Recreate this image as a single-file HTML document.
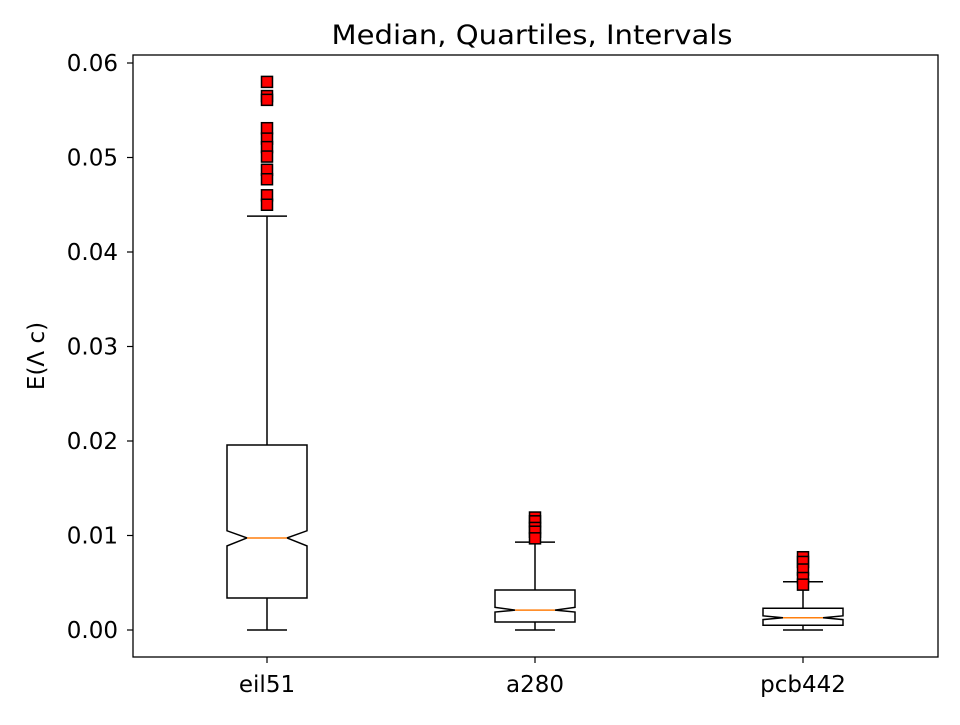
<!DOCTYPE html>
<html><head><meta charset="utf-8"><style>body{margin:0;background:#fff}svg{font-family:"DejaVu Sans","Liberation Sans",sans-serif}</style></head>
<body>
<svg id="c" width="960" height="720" xmlns="http://www.w3.org/2000/svg"></svg>
<script>
const categories=["eil51","a280","pcb442"];
const q1=[0.00339,0.00085,0.0005];
const q3=[0.01958,0.00423,0.0023];
const medians=[0.00974,0.0021,0.0013];
const notchLo=[0.0089,0.0019,0.0011];
const notchHi=[0.0105,0.0024,0.0015];
const whiskLo=[0,0,0];
const whiskHi=[0.0438,0.0093,0.0051];
const outliers=[[0.0580,0.0565,0.0561,0.0531,0.0520,0.0511,0.0501,0.0487,0.0477,0.0460,0.0450],[0.0119,0.0115,0.0108,0.0104,0.0097],[0.0077,0.0072,0.0064,0.0055,0.0048]];
const yTicks=[0,0.01,0.02,0.03,0.04,0.05,0.06];
const L=133,R=938,T=55,B=657;
const y=v=>630-v*9450;
const x=i=>267+i*268;
const NS="http://www.w3.org/2000/svg",svg=document.getElementById('c');
function el(t,a,p){const e=document.createElementNS(NS,t);for(const k in a)e.setAttribute(k,a[k]);(p||svg).appendChild(e);return e;}
let e;
e=el('rect',{x:L,y:T,width:R-L,height:B-T,fill:'#fff',stroke:'#000','stroke-width':1.3});

yTicks.forEach(v=>{
 el('line',{x1:L-6,x2:L,y1:y(v),y2:y(v),stroke:'#000','stroke-width':1.2});
 e=el('text',{x:L-15,y:y(v)+8,'font-size':23,'text-anchor':'end'});e.textContent=v.toFixed(2);
 
});
categories.forEach((c,i)=>{
 const cx=x(i),hw=40,nw=20;
 const g=el('g',{});
 
 el('line',{x1:cx,x2:cx,y1:y(whiskLo[i]),y2:y(q1[i]),stroke:'#000','stroke-width':1.5},g);
 el('line',{x1:cx,x2:cx,y1:y(q3[i]),y2:y(whiskHi[i]),stroke:'#000','stroke-width':1.5},g);
 el('line',{x1:cx-20,x2:cx+20,y1:y(whiskLo[i]),y2:y(whiskLo[i]),stroke:'#000','stroke-width':1.5},g);
 el('line',{x1:cx-20,x2:cx+20,y1:y(whiskHi[i]),y2:y(whiskHi[i]),stroke:'#000','stroke-width':1.5},g);
 const pts=[[cx-hw,y(q1[i])],[cx+hw,y(q1[i])],[cx+hw,y(notchLo[i])],[cx+nw,y(medians[i])],[cx+hw,y(notchHi[i])],[cx+hw,y(q3[i])],[cx-hw,y(q3[i])],[cx-hw,y(notchHi[i])],[cx-nw,y(medians[i])],[cx-hw,y(notchLo[i])]];
 el('polygon',{points:pts.map(p=>p.join(',')).join(' '),fill:'#fff',stroke:'#000','stroke-width':1.5},g);
 el('line',{x1:cx-nw,x2:cx+nw,y1:y(medians[i]),y2:y(medians[i]),stroke:'#ff7f0e','stroke-width':1.5},g);
 outliers[i].forEach(v=>{
  const m=el('rect',{x:cx-5.5,y:y(v)-5.5,width:11,height:11,fill:'#ff0000',stroke:'#000','stroke-width':1.5},g);
  
 });
 el('line',{x1:cx,x2:cx,y1:B,y2:B+6,stroke:'#000','stroke-width':1.2});
 e=el('text',{x:cx,y:B+35,'font-size':23,'text-anchor':'middle'});e.textContent=c;
 
});
e=el('text',{x:532,y:44,'font-size':27,'text-anchor':'middle',textLength:401,lengthAdjust:'spacingAndGlyphs'});e.textContent='Median, Quartiles, Intervals';

e=el('text',{x:44,y:356,'font-size':23,'text-anchor':'middle',transform:'rotate(-90 44 356)'});e.textContent='E(Λ c)';

</script>
</body></html>
